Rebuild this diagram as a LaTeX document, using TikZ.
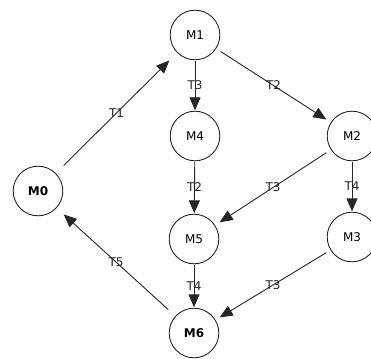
\documentclass[tikz,border=0pt]{standalone}
\usepackage{fontspec}
\setmainfont{DejaVu Sans}
\usetikzlibrary{arrows.meta}
\begin{document}
\begin{tikzpicture}[x=1pt,y=-1pt,
  st/.style={rectangle, minimum size=51pt, inner sep=0pt, font=\fontsize{12}{14}\selectfont,
    path picture={\draw[line width=0.9pt, black!85] (path picture bounding box.center) circle (24.8pt);}},
  bst/.style={st, font=\fontsize{12}{14}\selectfont\bfseries},
  arc/.style={draw=black!85, line width=0.9pt, -{Triangle[length=13pt,width=11pt]}},
  lbl/.style={font=\fontsize{12}{14}\selectfont, inner sep=0pt, text=black!85}]
\useasboundingbox (0,0) rectangle (371,358);
\node[st] (M1) at (195,35) {M1};
\node[st] (M4) at (195,136) {M4};
\node[st] (M2) at (352,136) {M2};
\node[bst] (M0) at (38,191) {M0};
\node[st] (M5) at (194,239) {M5};
\node[st] (M3) at (352,237) {M3};
\node[bst] (M6) at (194,333) {M6};
\draw[arc] (M0) -- node[lbl] {T1} (M1);
\draw[arc] (M1) -- node[lbl] {T3} (M4);
\draw[arc] (M1) -- node[lbl] {T2} (M2);
\draw[arc] (M4) -- node[lbl] {T2} (M5);
\draw[arc] (M2) -- node[lbl] {T3} (M5);
\draw[arc] (M2) -- node[lbl] {T4} (M3);
\draw[arc] (M5) -- node[lbl] {T4} (M6);
\draw[arc] (M3) -- node[lbl] {T3} (M6);
\draw[arc] (M6) -- node[lbl] {T5} (M0);
\end{tikzpicture}
\end{document}
